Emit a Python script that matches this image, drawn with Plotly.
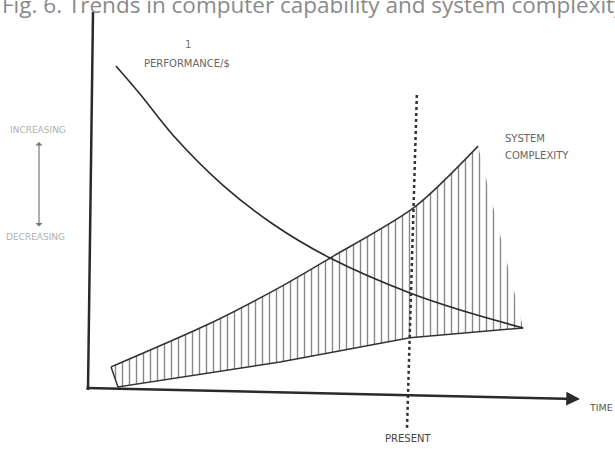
import plotly.graph_objects as go

# ---- data (time in arbitrary units, level in arbitrary units) ----
time_perf = [5.3, 10.2, 16.9, 27.1, 37.3, 49.0, 65.3, 77.6, 88.4]
perf = [98.2, 89.7, 77.3, 62.1, 50.3, 40.0, 29.4, 23.3, 18.8]

time_cx_upper = [4.3, 25.1, 38.8, 49.0, 66.3, 79.2]
cx_upper = [7.0, 20.6, 31.2, 40.0, 55.5, 73.9]

time_cx_lower = [5.7, 38.8, 65.3, 88.4]
cx_lower = [0.9, 8.5, 15.8, 18.8]

present_time = 65.7

W, H = 615, 449
# axis scaling helpers: pixel <-> data
def tx(px):
    return (px - 90) / 4.9

def vy(py):
    return (390 - py) / 3.3

fig = go.Figure()

# lower boundary of the complexity band (incl. short left edge)
fig.add_trace(go.Scatter(x=[time_cx_upper[0]] + time_cx_lower,
                         y=[cx_upper[0]] + cx_lower, mode="lines",
                         line=dict(color="#333", width=1.5, shape="linear"),
                         hoverinfo="skip", showlegend=False))
# upper boundary, hatched down to the lower boundary
fig.add_trace(go.Scatter(
    x=time_cx_upper, y=cx_upper, mode="lines", fill="tonexty",
    line=dict(color="#333", width=1.5, shape="spline", smoothing=0.8),
    fillcolor="rgba(255,255,255,0)",
    fillpattern=dict(shape="|", size=7, solidity=0.2, fgcolor="#111",
                     bgcolor="rgba(255,255,255,0)", fillmode="overlay"),
    hoverinfo="skip", showlegend=False))

# performance / $
fig.add_trace(go.Scatter(x=time_perf, y=perf, mode="lines",
                         line=dict(color="#2a2a2a", width=1.6, shape="spline", smoothing=0.9),
                         hoverinfo="skip", showlegend=False))

shapes = [
    # vertical axis
    dict(type="line", x0=tx(93), y0=vy(12), x1=tx(88), y1=vy(390),
         line=dict(color="#2a2a2a", width=2.5)),
    # present dotted line
    dict(type="line", x0=present_time + 1.0, y0=vy(95), x1=present_time - 1.0, y1=vy(428),
         line=dict(color="#333", width=2.5, dash="dot")),
]

font_fam = "DejaVu Sans, sans-serif"
ann = [
    # time axis arrow
    dict(x=tx(580), y=vy(399), ax=tx(85), ay=vy(388), xref="x", yref="y",
         axref="x", ayref="y", showarrow=True, arrowhead=2, arrowsize=1.1,
         arrowwidth=2.5, arrowcolor="#2a2a2a", text=""),
    # increasing/decreasing arrow
    dict(x=tx(39), y=vy(142), ax=tx(39), ay=vy(228), xref="x", yref="y",
         axref="x", ayref="y", showarrow=True, arrowhead=1, arrowside="end+start",
         arrowsize=1, arrowwidth=1.2, arrowcolor="#777", text=""),
    dict(x=tx(314), y=vy(4), text="Fig. 6. Trends in computer capability and system complexity",
         showarrow=False, font=dict(family="Open Sans, sans-serif", size=22.5, color="#8a8a8a")),
    dict(x=tx(142), y=vy(63), text="PERFORMANCE/$", xanchor="left", showarrow=False,
         font=dict(family=font_fam, size=10, color="#666")),
    dict(x=tx(188), y=vy(44), text="1", showarrow=False,
         font=dict(family=font_fam, size=10, color="#777")),
    dict(x=tx(503), y=vy(138), text="SYSTEM", xanchor="left", showarrow=False,
         font=dict(family=font_fam, size=10, color="#666")),
    dict(x=tx(503), y=vy(155), text="COMPLEXITY", xanchor="left", showarrow=False,
         font=dict(family=font_fam, size=10, color="#666")),
    dict(x=tx(587), y=vy(407), text="TIME", xanchor="left", showarrow=False,
         font=dict(family=font_fam, size=9.5, color="#555")),
    dict(x=tx(383), y=vy(438), text="PRESENT", xanchor="left", showarrow=False,
         font=dict(family=font_fam, size=10, color="#444")),
    dict(x=tx(8), y=vy(130), text="INCREASING", xanchor="left", showarrow=False,
         font=dict(family=font_fam, size=9, color="#b0b0b0")),
    dict(x=tx(4), y=vy(237), text="DECREASING", xanchor="left", showarrow=False,
         font=dict(family=font_fam, size=9, color="#b0b0b0")),
]

fig.update_layout(
    width=W, height=H, margin=dict(l=0, r=0, t=0, b=0),
    paper_bgcolor="white", plot_bgcolor="white",
    xaxis=dict(range=[tx(0), tx(W)], visible=False, fixedrange=True),
    yaxis=dict(range=[vy(H), vy(0)], visible=False, fixedrange=True),
    shapes=shapes, annotations=ann, showlegend=False,
)

fig.write_html("out.html", config={"displayModeBar": False},
               post_script="document.body.style.margin='0';document.body.style.overflow='hidden';")
